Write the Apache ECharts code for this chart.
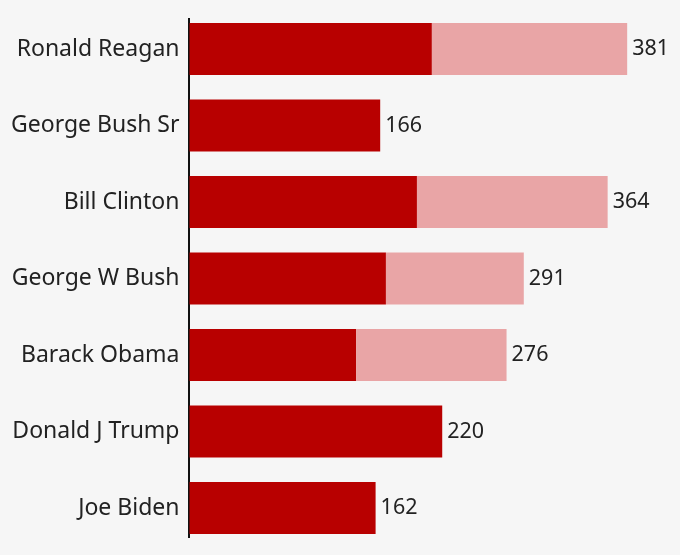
<!DOCTYPE html>
<html><head><meta charset="utf-8">
<script src="https://cdn.jsdelivr.net/npm/echarts@6/dist/echarts.min.js"></script>
<style>html,body{margin:0;padding:0;background:#f6f6f6}#c{width:680px;height:555px}</style>
</head><body><div id="c"></div>
<script>
const presidents = ['Ronald Reagan','George Bush Sr','Bill Clinton','George W Bush','Barack Obama','Donald J Trump','Joe Biden'];
const firstTerm = [211, 166, 198, 171, 145, 220, 162];
const secondTerm = [170, 0, 166, 120, 131, 0, 0];
const totals = presidents.map((_, i) => firstTerm[i] + secondTerm[i]);

const chart = echarts.init(document.getElementById('c'));
chart.setOption({
  backgroundColor: '#f6f6f6',
  animation: false,
  grid: { left: 189.5, right: 31, top: 10.75, bottom: 8.75 },
  xAxis: { type: 'value', min: 0, max: 400, show: false },
  yAxis: {
    type: 'category', data: presidents, inverse: true,
    axisLine: { show: false }, axisTick: { show: false },
    axisLabel: { fontFamily: 'Noto Sans', fontSize: 23, color: '#222', margin: 10 }
  },
  graphic: [{ type: 'line', shape: { x1: 189, y1: 18, x2: 189, y2: 538 }, style: { stroke: '#111', lineWidth: 2 } }],
  series: [
    { type: 'bar', stack: 't', data: firstTerm, barWidth: 52, itemStyle: { color: '#b80000' } },
    { type: 'bar', stack: 't', data: secondTerm, barWidth: 52, itemStyle: { color: '#e9a5a6' },
      label: { show: true, position: 'right', distance: 5, fontFamily: 'Noto Sans', fontSize: 21.5, color: '#222',
        formatter: p => totals[p.dataIndex] } }
  ]
});
</script></body></html>
